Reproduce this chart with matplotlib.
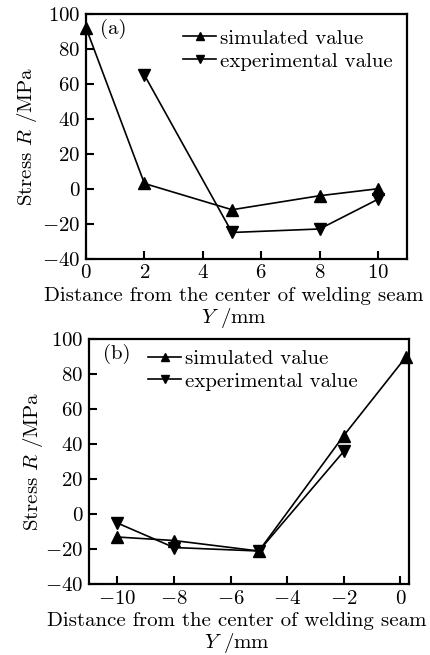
import matplotlib.pyplot as plt

plt.rcParams['font.family'] = ['cmr10', 'DejaVu Serif']
plt.rcParams['mathtext.fontset'] = 'cm'
plt.rcParams['axes.unicode_minus'] = False

# (a) данные
xa_sim = [0, 2, 5, 8, 10]
ya_sim = [92, 3, -12, -4, 0]
xa_exp = [2, 5, 8, 10]
ya_exp = [65, -25, -23, -6]

# (b) данные
xb_sim = [-10, -8, -5, -2, 0.2]
yb_sim = [-13, -15, -21, 45, 90]
xb_exp = [-10, -8, -5, -2]
yb_exp = [-5, -19, -21, 36]

yticks = [-40, -20, 0, 20, 40, 60, 80, 100]
yticklabels = ['$-40$', '$-20$', '$0$', '$20$', '$40$', '$60$', '$80$', '$100$']

fs = 15

fig = plt.figure(figsize=(4.3, 6.55), dpi=100)
ax1 = fig.add_axes([0.200, 0.605, 0.747, 0.374])
ax2 = fig.add_axes([0.207, 0.108, 0.744, 0.374])


def style(ax, xl, lp):
    for s in ax.spines.values():
        s.set_linewidth(1.6)
    ax.tick_params(direction='in', length=5.5, width=1.5, labelsize=fs,
                   top=False, right=False, pad=4)
    ax.set_ylim(-40, 100)
    ax.set_yticks(yticks)
    ax.set_yticklabels(yticklabels)
    ax.set_ylabel(r'Stress $R$ /MPa', fontsize=fs, labelpad=lp)
    ax.set_xlabel('Distance from the center of welding seam\n' + r'$Y$ /mm',
                  fontsize=fs, linespacing=1.05)
    ax.xaxis.set_label_coords(xl, -0.115)


kw = dict(color='black', linewidth=1.2, markersize=9, clip_on=False)
leg_kw = dict(frameon=False, fontsize=fs, handlelength=1.6, handletextpad=0.2,
              borderaxespad=0.2, labelspacing=0.2, markerscale=0.7)

ax1.plot(xa_sim, ya_sim, marker='^', label='simulated value', **kw)
ax1.plot(xa_exp, ya_exp, marker='v', label='experimental value', **kw)
ax1.set_xlim(0, 11)
ax1.set_xticks([0, 2, 4, 6, 8, 10])
ax1.set_xticklabels(['$0$', '$2$', '$4$', '$6$', '$8$', '$10$'])
style(ax1, 0.461, 2)
ax1.text(0.045, 0.94, '(a)', transform=ax1.transAxes, fontsize=fs, va='center')
ax1.legend(loc='upper right', bbox_to_anchor=(0.995, 0.988), **leg_kw)

ax2.plot(xb_sim, yb_sim, marker='^', label='simulated value', **kw)
ax2.plot(xb_exp, yb_exp, marker='v', label='experimental value', **kw)
ax2.set_xlim(-11, 0.3)
ax2.set_xticks([-10, -8, -6, -4, -2, 0])
ax2.set_xticklabels(['$-10$', '$-8$', '$-6$', '$-4$', '$-2$', '$0$'])
style(ax2, 0.4625, 0)
ax2.text(0.045, 0.94, '(b)', transform=ax2.transAxes, fontsize=fs, va='center')
ax2.legend(loc='upper left', bbox_to_anchor=(0.145, 1.01), **leg_kw)

fig.savefig('out.png', dpi=100)
